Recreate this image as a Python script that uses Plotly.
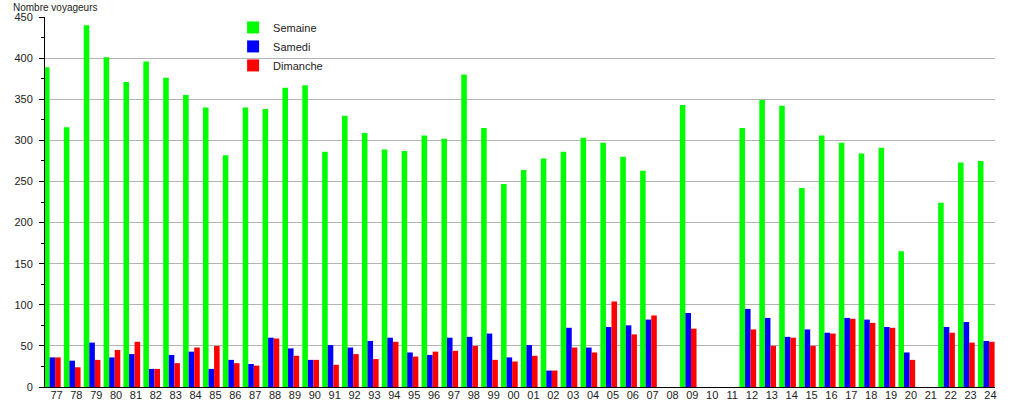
import plotly.graph_objects as go

years = ["77","78","79","80","81","82","83","84","85","86","87","88","89","90","91",
         "92","93","94","95","96","97","98","99","00","01","02","03","04","05","06",
         "07","08","09","10","11","12","13","14","15","16","17","18","19","20","21",
         "22","23","24"]

semaine = [389,316,440,401,371,396,376,355,340,282,340,338,364,367,286,
           330,309,289,287,306,302,380,315,247,264,278,286,303,297,280,
           263,None,343,None,None,315,349,342,242,306,297,284,291,165,None,
           224,273,275]
samedi = [36,32,54,36,40,22,39,43,22,33,28,60,47,33,51,
          48,56,60,42,39,60,61,65,36,51,20,72,48,73,75,
          82,None,90,None,None,95,84,61,70,66,84,82,73,42,None,
          73,79,56]
dimanche = [36,24,33,45,55,22,29,48,50,29,26,59,38,33,27,
            40,34,55,37,43,44,50,33,31,38,20,48,42,104,64,
            87,None,71,None,None,70,50,60,50,65,83,78,72,33,None,
            66,54,55]

series = [("Semaine", semaine, "#00ff00", -0.63),
          ("Samedi", samedi, "#0000ff", -0.35),
          ("Dimanche", dimanche, "#ff0000", -0.07)]

idx = list(range(len(years)))
fig = go.Figure()
for name, vals, col, off in series:
    fig.add_trace(go.Bar(x=idx, y=vals, name=name, marker_color=col,
                         marker_line_width=0, offset=off, width=0.28))

font = "Liberation Sans, Arial, sans-serif"
fig.update_layout(
    width=1015, height=400,
    margin=dict(l=45, r=20, t=17, b=13, autoexpand=False),
    barmode="overlay",
    plot_bgcolor="white", paper_bgcolor="white",
    font=dict(family=font, size=11, color="#222"),
    showlegend=True,
    legend=dict(x=0.198, y=1.011, xanchor="left", yanchor="top",
                bgcolor="rgba(0,0,0,0)", font=dict(size=11, color="#222"),
                tracegroupgap=0, itemwidth=30),
    xaxis=dict(range=[-0.579, 47.23], tickmode="array", tickvals=idx,
               ticktext=years, showgrid=False, zeroline=False,
               showline=True, linecolor="black", linewidth=1,
               ticks="", tickfont=dict(size=11, color="#222"), ticklabelstandoff=-2),
    yaxis=dict(range=[0, 450], dtick=50, tick0=0, showgrid=True,
               gridcolor="#b4b4b4", gridwidth=1, zeroline=False,
               showline=True, linecolor="black", linewidth=1,
               ticks="outside", ticklen=5, tickcolor="black",
               tickfont=dict(size=11, color="#222"), ticklabelstandoff=4,
               minor=dict(dtick=25, ticklen=3, tickcolor="black", ticks="outside", showgrid=False)),
    annotations=[dict(text="Nombre voyageurs", xref="paper", yref="paper",
                      x=-0.0353, y=1.027, xanchor="left", yanchor="middle",
                      showarrow=False, font=dict(size=10, color="#222"))],
)

# remove the default 8px page margin so the 1015x400 figure fills the window
fig.write_html("out.html", config={"displayModeBar": False},
               post_script="document.body.style.margin='0';")
